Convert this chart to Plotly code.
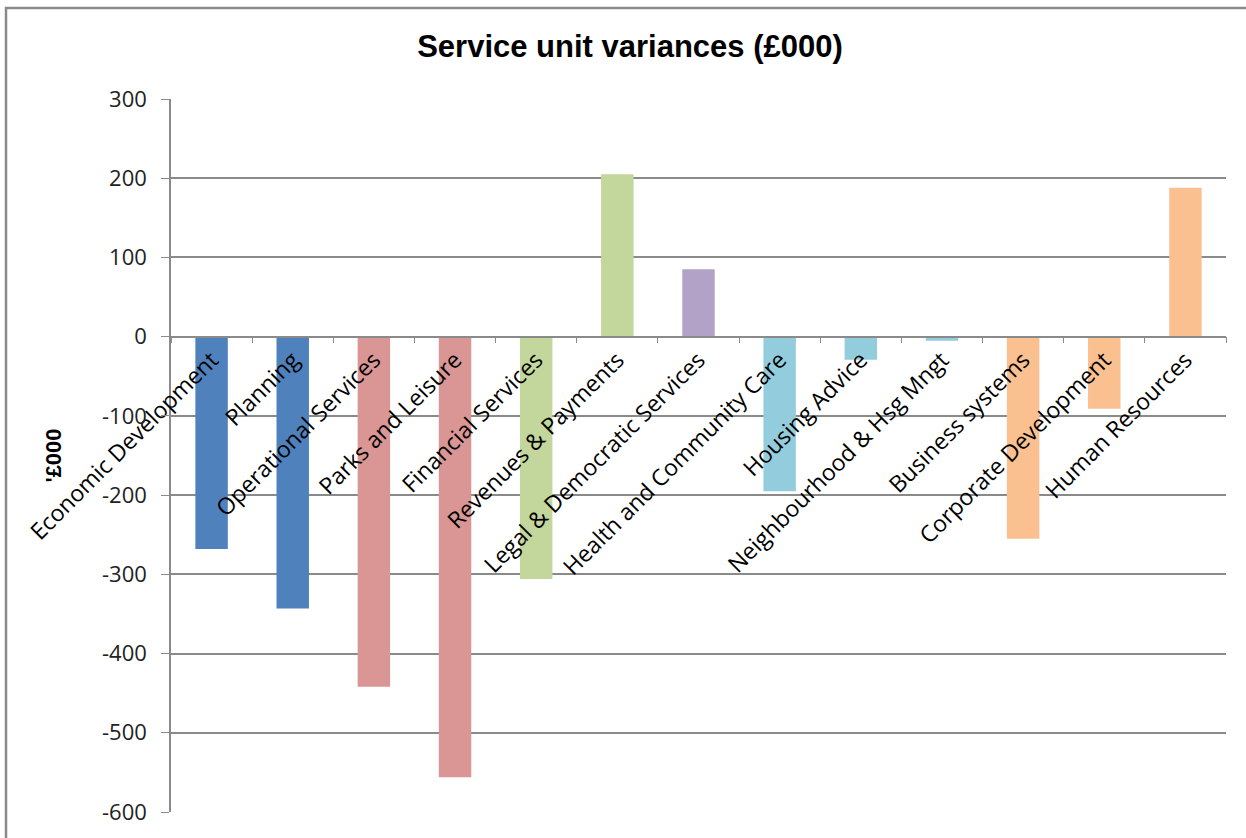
import plotly.graph_objects as go

categories = [
    "Economic Development", "Planning", "Operational Services", "Parks and Leisure",
    "Financial Services", "Revenues & Payments", "Legal & Democratic Services",
    "Health and Community Care", "Housing Advice", "Neighbourhood & Hsg Mngt",
    "Business systems", "Corporate Development", "Human Resources",
]
variances = [-268, -343, -442, -556, -306, 205, 85, -195, -29, -5, -255, -91, 188]
bar_colors = [
    "#4F81BD", "#4F81BD", "#D99694", "#D99694", "#C3D69B", "#C3D69B", "#B3A2C7",
    "#93CDDD", "#93CDDD", "#93CDDD", "#FAC090", "#FAC090", "#FAC090",
]
y_ticks = [300, 200, 100, 0, -100, -200, -300, -400, -500, -600]
y_tick_text = ["300", "200", "100", "0", "-100", "-200", "-300", "-400", "-500", "-600"]

W, H = 1246, 838
L, R, T, B = 171, 1226, 99, 812
fig = go.Figure()
fig.add_trace(go.Bar(
    x=categories, y=variances, width=0.4,
    marker=dict(color=bar_colors, line=dict(width=0)),
))

def px_x(p):
    return (p - L) / (R - L)

def px_y(p):
    return (B - p) / (B - T)

fig.update_layout(
    width=W, height=H,
    margin=dict(l=L, r=W - R, t=T, b=H - B),
    paper_bgcolor="white", plot_bgcolor="white",
    showlegend=False,
    title=dict(text="<b>Service unit variances (£000)</b>", x=630 / W, xanchor="center",
               y=1 - 46 / H, yanchor="middle",
               font=dict(family="Liberation Sans", size=31, color="black")),
    font=dict(family="Open Sans", color="#222"),
    bargap=0.6,
    shapes=[dict(type="rect", xref="paper", yref="paper",
                 x0=px_x(6), x1=px_x(1260), y0=px_y(850), y1=px_y(8),
                 line=dict(color="#8a8a8a", width=2.5), layer="below")],
)
fig.update_xaxes(
    type="category", anchor="free", position=600 / 900,
    showline=True, linecolor="#8a8a8a", linewidth=1.5,
    ticks="outside", tickson="boundaries", ticklen=6, tickcolor="#8a8a8a",
    tickangle=-45, tickfont=dict(family="Open Sans", size=23, color="black"),
    showgrid=False,
)
fig.update_yaxes(
    range=[-600, 300], tickvals=y_ticks, ticktext=y_tick_text,
    ticks="outside", ticklen=8, tickcolor="#8a8a8a", ticklabelstandoff=10,
    showline=True, linecolor="#8a8a8a", linewidth=1.5,
    showgrid=True, gridcolor="#8a8a8a", gridwidth=1.5, zeroline=False,
    tickfont=dict(family="Open Sans", size=22, color="#222"),
    title=dict(text="<b>'£000</b>", font=dict(family="Liberation Sans", size=22, color="black"),
               standoff=34),
)
fig.write_html("out.html")
